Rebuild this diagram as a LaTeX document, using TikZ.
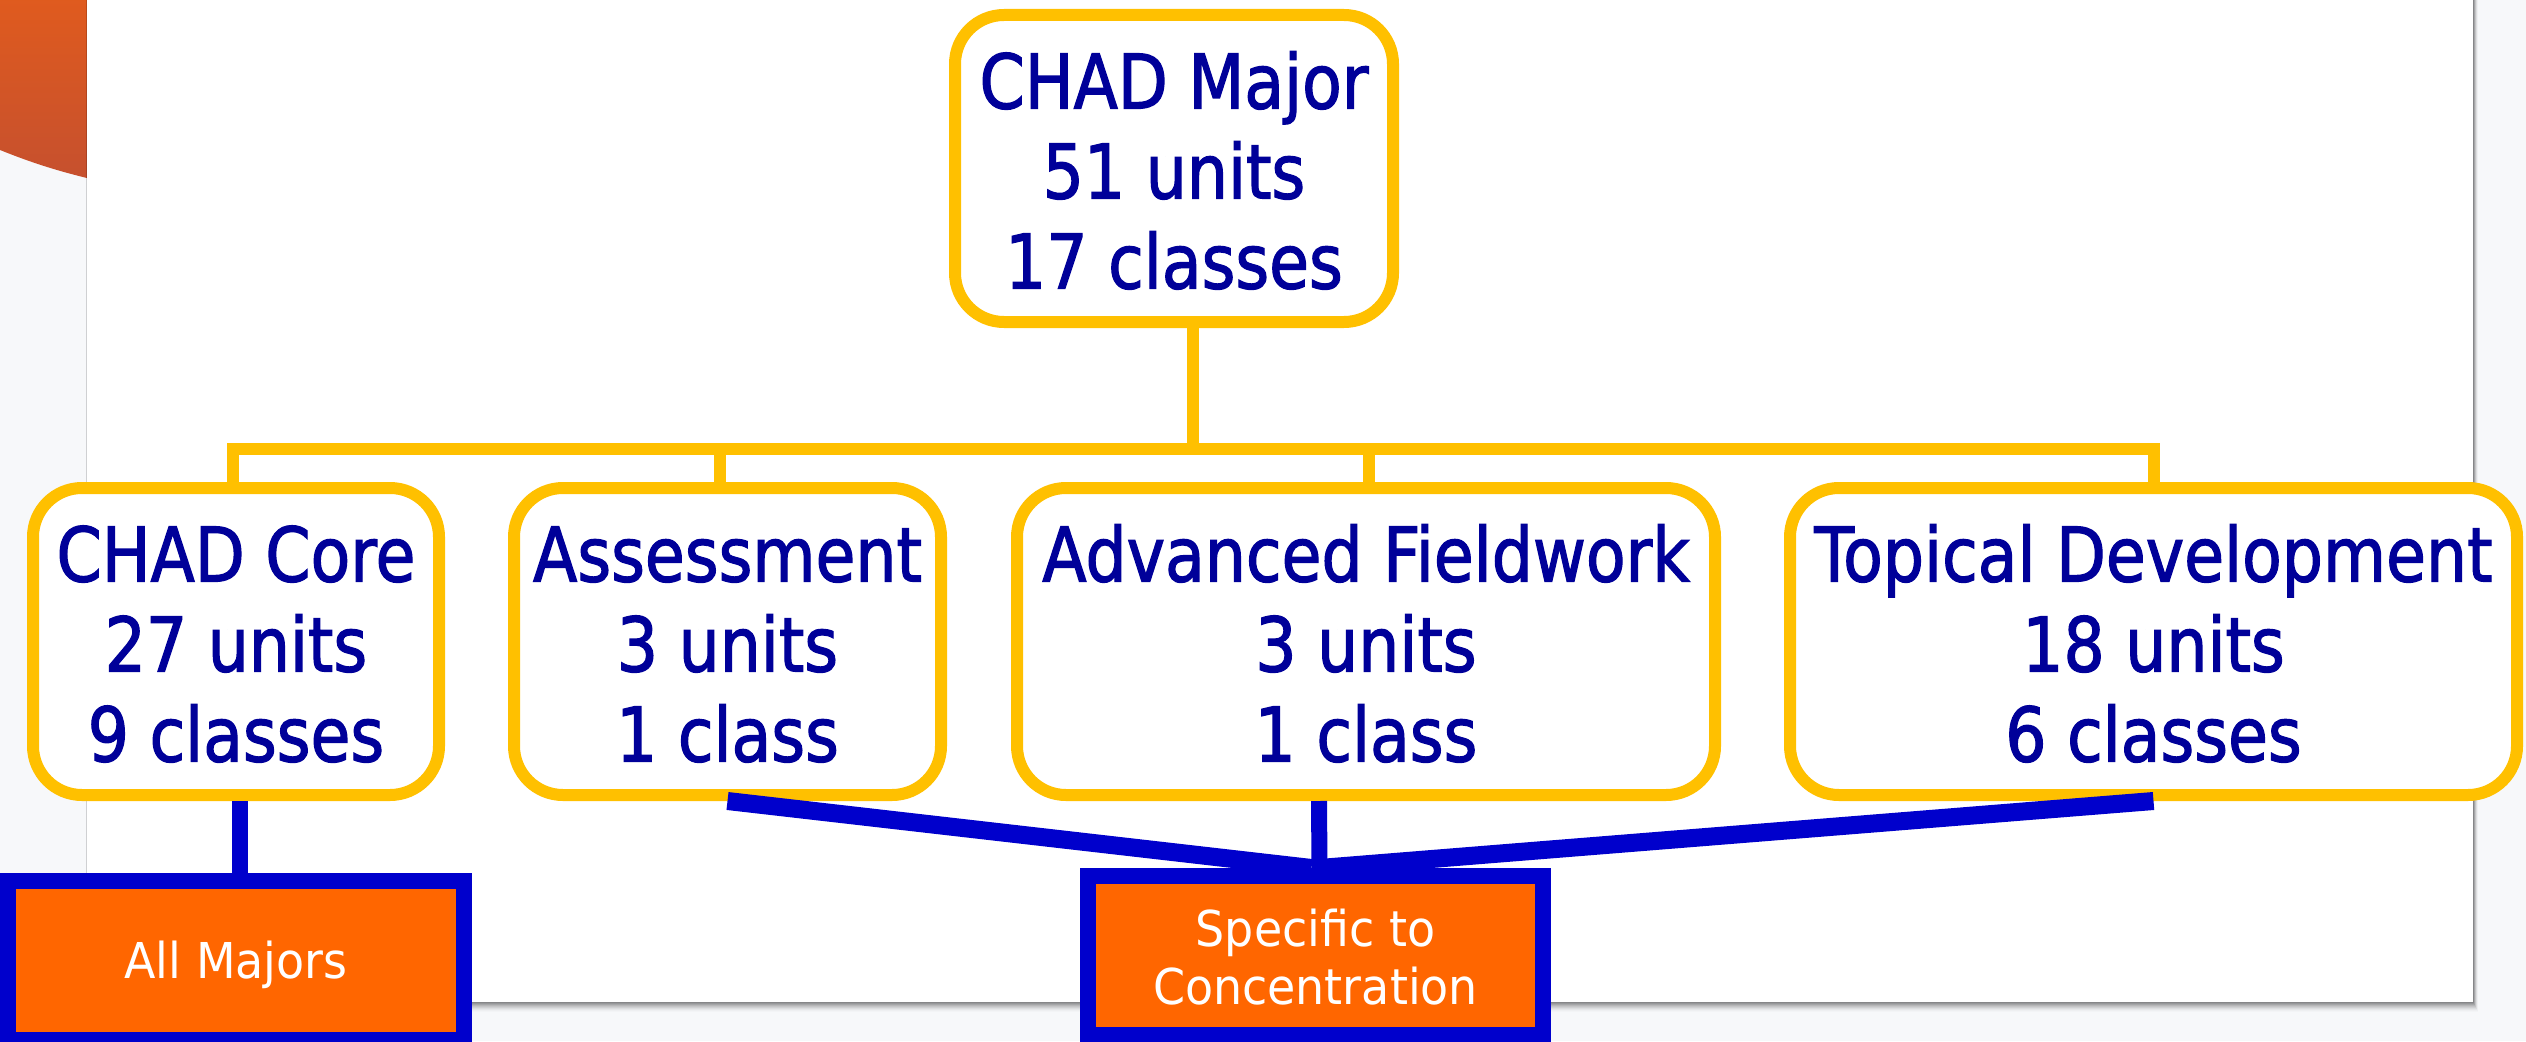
\documentclass[tikz,border=0pt]{standalone}
\usepackage{fontspec}
\setmainfont{DejaVu Sans}[FakeStretch=0.86,FakeBold=1.6]
\newfontfamily\smallfnt{DejaVu Sans}[FakeStretch=0.93]
\definecolor{bgc}{HTML}{F7F8FA}
\definecolor{yel}{HTML}{FFC000}
\definecolor{blu}{HTML}{0000CC}
\definecolor{navy}{HTML}{000099}
\definecolor{org}{HTML}{FF6600}
\definecolor{orgA}{HTML}{E05B1E}
\definecolor{orgB}{HTML}{C6502E}
\newcommand\threelines[3]{\begin{tabular}[t]{@{}c@{}}#1\\#2\\#3\end{tabular}}
\tikzset{
  ybox/.style={draw=yel, line width=12pt, fill=white, rounded corners=49pt,
    inner sep=0pt, minimum height=307pt, text=navy,
    font=\fontsize{75.4}{90}\selectfont, text height=60pt, text depth=180pt},
  bbox/.style={draw=blu, line width=16pt, fill=org, inner sep=0pt,
    minimum width=456pt, minimum height=159pt, text=white,
    font=\smallfnt\fontsize{49.4}{58}\selectfont},
  yline/.style={draw=yel, line width=12pt},
  bline/.style={draw=blu, line width=16pt},
  dline/.style={draw=blu, line width=18pt},
}
\begin{document}
\begin{tikzpicture}[x=1pt,y=-1pt]
\useasboundingbox (0,0) rectangle (2526,1041);
\clip (0,0) rectangle (2526,1041);
\fill[bgc] (0,0) rectangle (2526,1041);
% orange corner shape
\shade[top color=orgA, bottom color=orgB] (0,-5) -- (87,-5) -- (87,178) .. controls (50,169) and (25,160) .. (0,150) -- cycle;
% slide panel shadow
\foreach \i/\o in {1/0.10,2/0.09,3/0.08,4/0.07,5/0.06,6/0.05,7/0.04,8/0.03,9/0.02,10/0.015} {
  \fill[black, opacity=\o] (87-0.1*\i,-20) rectangle (2473+0.5*\i,1002+\i);
}
\fill[white] (87,-20) rectangle (2473,1002);
% nodes
\node[ybox, minimum width=438pt] (major) at (1174,168.5) {\threelines{CHAD Major}{51 units}{17 classes}};
\node[ybox, minimum width=406pt] (core) at (236,641.5) {\threelines{CHAD Core}{27 units}{9 classes}};
\node[ybox, minimum width=427pt] (assess) at (727.5,641.5) {\threelines{Assessment}{3 units}{1 class}};
\node[ybox, minimum width=698pt] (field) at (1366,641.5) {\threelines{Advanced Fieldwork}{3 units}{1 class}};
\node[ybox, minimum width=727pt] (topic) at (2153.5,641.5) {\threelines{Topical Development}{18 units}{6 classes}};
\node[bbox, text height=36pt, text depth=0pt] (all) at (236,960.5) {All Majors};
\node[bbox, minimum width=455pt, text height=39pt, text depth=58pt] (spec) at (1315.5,955.5) {\begin{tabular}[t]{@{}c@{}}Specific to\\Concentration\end{tabular}};
% yellow connectors
\coordinate (bus) at (1193,449);
\draw[yline] ([xshift=-3pt]core.north) |- (bus) -| (topic.north);
\draw[yline] ([xshift=-7.5pt]assess.north) -- ++(0,-33);
\draw[yline] ([xshift=3pt]field.north) -- ++(0,-33);
\draw[yline] (major.south -| bus) -- (bus);
% blue connectors
\draw[bline] ([xshift=4pt]core.south) -- ([xshift=4pt]all.north);
\draw[dline] (assess.south) -- ([xshift=-4pt]spec.north);
\draw[bline] ([xshift=-47pt]field.south) -- ([xshift=4pt]spec.north);
\draw[dline] (topic.south) -- ([xshift=4pt]spec.north);
\end{tikzpicture}
\end{document}
